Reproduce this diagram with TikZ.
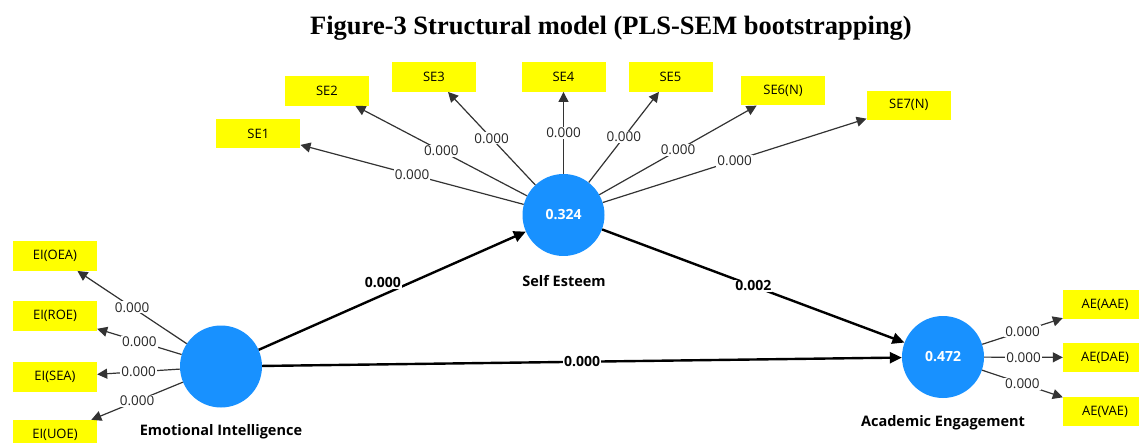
\documentclass[tikz,border=0pt]{standalone}
\usepackage{fontspec}
\setmainfont{Liberation Serif}
\newfontfamily\uifont{Open Sans}
\usetikzlibrary{arrows.meta}
\definecolor{lvblue}{RGB}{24,145,255}
\definecolor{indyellow}{RGB}{255,255,0}
\begin{document}
\begin{tikzpicture}[x=1pt,y=-1pt,
  ind/.style={fill=indyellow, minimum width=84pt, minimum height=29.5pt, inner sep=0pt,
    font=\uifont\fontsize{13}{15}\selectfont},
  lv/.style={circle, fill=lvblue, minimum size=82pt, inner sep=0pt, text=white,
    font=\uifont\bfseries\fontsize{14}{16}\selectfont},
  lvname/.style={font=\uifont\bfseries\fontsize{14.5}{17}\selectfont},
  mline/.style={draw=black!80, line width=1.2pt, -{Triangle[length=10pt,width=10pt]}},
  sline/.style={draw=black, line width=2.4pt, -{Triangle[length=12pt,width=11pt]}},
  val/.style={fill=white, inner sep=1pt, text=black!85, font=\uifont\fontsize{13.5}{15}\selectfont},
  bval/.style={fill=white, inner sep=1pt, font=\uifont\bfseries\fontsize{14}{16}\selectfont},
]
\useasboundingbox (0,0) rectangle (1139,443);
\clip (0,0) rectangle (1139,443);

\node[anchor=base, font=\bfseries\fontsize{26.5}{30}\selectfont] (title) at (611,35)
  {Figure-3 Structural model (PLS-SEM bootstrapping)};

% latent variables
\node[lv] (SE) at (563.5,215) {0.324};
\node[lv] (EI) at (221,366.5) {};
\node[lv] (AE) at (943,357) {0.472};
\node[lvname] (SEn) at (564,281) {Self Esteem};
\node[lvname] (EIn) at (221,432) {Emotional Intelligence};
\node[lvname] (AEn) at (943,423) {Academic Engagement};

% indicators of Self Esteem
\node[ind] (SE1) at (258.3,133.7) {SE1};
\node[ind] (SE2) at (327,91) {SE2};
\node[ind] (SE3) at (434,77) {SE3};
\node[ind] (SE4) at (563.5,77) {SE4};
\node[ind] (SE5) at (670.5,77) {SE5};
\node[ind] (SE6) at (783,90.7) {SE6(N)};
\node[ind] (SE7) at (908.8,105.3) {SE7(N)};

% indicators of Emotional Intelligence
\node[ind] (EI1) at (55,256) {EI(OEA)};
\node[ind] (EI2) at (55,316) {EI(ROE)};
\node[ind] (EI3) at (55,377) {EI(SEA)};
\node[ind] (EI4) at (55,434.75) {EI(UOE)};

% indicators of Academic Engagement
\node[ind] (AE1) at (1105,304.5) {AE(AAE)};
\node[ind] (AE2) at (1105,357.5) {AE(DAE)};
\node[ind] (AE3) at (1105,411.5) {AE(VAE)};

% outer paths
\foreach \t in {SE1,SE2,SE3,SE4,SE5,SE6,SE7}
  \draw[mline] (SE) -- node[val] {0.000} (\t);
\foreach \t in {EI1,EI2,EI3,EI4}
  \draw[mline] (EI) -- node[val] {0.000} (\t);
\foreach \t in {AE1,AE2,AE3}
  \draw[mline] (AE) -- node[val] {0.000} (\t);

% structural paths
\draw[sline] (EI) -- node[bval, pos=0.465, yshift=12pt] {0.000} (SE);
\draw[sline] (SE) -- node[bval] {0.002} (AE);
\draw[sline] (EI) -- node[bval] {0.000} (AE);
\end{tikzpicture}
\end{document}
